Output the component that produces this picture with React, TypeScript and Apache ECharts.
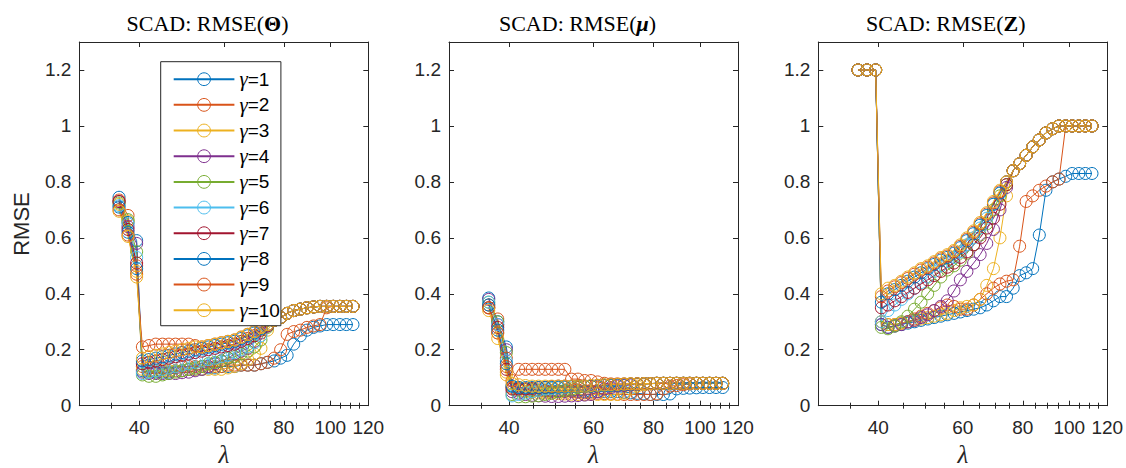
import React, { useEffect, useRef } from 'react';
import * as echarts from 'echarts';

// λ grid (shared by all γ curves)
const LAMBDA = [36.3, 37.9, 39.5, 40.6, 41.9, 43.3, 44.7, 46.1, 47.6, 49.1, 50.7, 52.3, 54.0, 55.7, 57.5, 59.3, 61.2, 63.2, 65.2, 67.3, 69.5, 71.7, 74.0, 76.4, 78.8, 81.3, 83.9, 86.6, 89.4, 92.3, 95.2, 98.3, 101.4, 104.7, 108.0, 111.5];

const GAMMA_LABELS = ['γ=1', 'γ=2', 'γ=3', 'γ=4', 'γ=5', 'γ=6', 'γ=7', 'γ=8', 'γ=9', 'γ=10'];
const X_MAJOR = [40, 60, 80, 100, 120];
const X_MINOR = [35, 45, 50, 55, 65, 70, 75, 85, 90, 95, 105, 110, 115];
const Y_TICKS = [0, 0.2, 0.4, 0.6, 0.8, 1, 1.2];
const TITLE_SYMBOLS = ['Θ', 'μ', 'Z'];

// RMSE(Θ)
const THETA_G1 = [0.745, 0.655, 0.59, 0.125, 0.12, 0.12, 0.12, 0.12, 0.125, 0.125, 0.13, 0.13, 0.13, 0.135, 0.135, 0.14, 0.14, 0.14, 0.145, 0.145, 0.145, 0.15, 0.155, 0.16, 0.17, 0.18, 0.22, 0.25, 0.27, 0.28, 0.285, 0.29, 0.29, 0.29, 0.29, 0.29];
const THETA_G2 = [0.735, 0.68, 0.5, 0.14, 0.135, 0.135, 0.135, 0.135, 0.14, 0.14, 0.14, 0.14, 0.14, 0.14, 0.14, 0.14, 0.145, 0.145, 0.145, 0.145, 0.145, 0.15, 0.155, 0.17, 0.2, 0.255, 0.265, 0.27, 0.28, 0.285, 0.29, 0.35, 0.355, 0.355, 0.355, 0.355];
const THETA_G3 = [0.72, 0.66, 0.48, 0.13, 0.125, 0.125, 0.125, 0.125, 0.125, 0.125, 0.13, 0.13, 0.13, 0.13, 0.13, 0.13, 0.135, 0.14, 0.15, 0.165, 0.185, 0.205, 0.27, 0.305, 0.315, 0.33, 0.34, 0.345, 0.35, 0.353, 0.355, 0.355, 0.355, 0.355, 0.355, 0.355];
const THETA_G4 = [0.73, 0.64, 0.58, 0.12, 0.115, 0.115, 0.115, 0.115, 0.115, 0.118, 0.12, 0.125, 0.13, 0.14, 0.15, 0.16, 0.17, 0.185, 0.195, 0.205, 0.23, 0.26, 0.285, 0.305, 0.315, 0.33, 0.34, 0.345, 0.35, 0.353, 0.355, 0.355, 0.355, 0.355, 0.355, 0.355];
const THETA_G5 = [0.725, 0.665, 0.55, 0.11, 0.105, 0.105, 0.11, 0.115, 0.12, 0.125, 0.13, 0.135, 0.14, 0.15, 0.155, 0.16, 0.17, 0.175, 0.185, 0.195, 0.21, 0.235, 0.28, 0.305, 0.315, 0.33, 0.34, 0.345, 0.35, 0.353, 0.355, 0.355, 0.355, 0.355, 0.355, 0.355];
const THETA_G6 = [0.715, 0.65, 0.53, 0.115, 0.12, 0.125, 0.13, 0.135, 0.14, 0.145, 0.15, 0.155, 0.16, 0.165, 0.17, 0.175, 0.18, 0.19, 0.2, 0.21, 0.225, 0.25, 0.285, 0.305, 0.315, 0.33, 0.34, 0.345, 0.35, 0.353, 0.355, 0.355, 0.355, 0.355, 0.355, 0.355];
const THETA_G7 = [0.73, 0.63, 0.51, 0.15, 0.155, 0.16, 0.165, 0.17, 0.175, 0.18, 0.185, 0.19, 0.195, 0.2, 0.205, 0.21, 0.215, 0.22, 0.23, 0.24, 0.25, 0.27, 0.285, 0.305, 0.315, 0.33, 0.34, 0.345, 0.35, 0.353, 0.355, 0.355, 0.355, 0.355, 0.355, 0.355];
const THETA_G8 = [0.71, 0.62, 0.49, 0.16, 0.165, 0.17, 0.175, 0.18, 0.185, 0.19, 0.195, 0.2, 0.205, 0.21, 0.215, 0.22, 0.225, 0.23, 0.24, 0.25, 0.26, 0.275, 0.29, 0.305, 0.315, 0.33, 0.34, 0.345, 0.35, 0.353, 0.355, 0.355, 0.355, 0.355, 0.355, 0.355];
const THETA_G9 = [0.7, 0.61, 0.47, 0.21, 0.215, 0.22, 0.22, 0.22, 0.22, 0.22, 0.22, 0.215, 0.21, 0.215, 0.22, 0.225, 0.23, 0.235, 0.245, 0.255, 0.265, 0.28, 0.29, 0.305, 0.315, 0.33, 0.34, 0.345, 0.35, 0.353, 0.355, 0.355, 0.355, 0.355, 0.355, 0.355];
const THETA_G10 = [0.695, 0.605, 0.46, 0.17, 0.175, 0.18, 0.185, 0.19, 0.195, 0.2, 0.205, 0.21, 0.21, 0.215, 0.22, 0.225, 0.23, 0.235, 0.245, 0.255, 0.265, 0.28, 0.29, 0.305, 0.315, 0.33, 0.34, 0.345, 0.35, 0.353, 0.355, 0.355, 0.355, 0.355, 0.355, 0.355];

// RMSE(μ)
const MU_G1 = [0.385, 0.3, 0.21, 0.07, 0.065, 0.06, 0.058, 0.056, 0.055, 0.054, 0.053, 0.052, 0.052, 0.051, 0.05, 0.05, 0.05, 0.05, 0.05, 0.05, 0.048, 0.046, 0.044, 0.042, 0.04, 0.04, 0.04, 0.042, 0.06, 0.062, 0.063, 0.064, 0.065, 0.065, 0.065, 0.065];
const MU_G2 = [0.36, 0.31, 0.17, 0.065, 0.06, 0.058, 0.056, 0.054, 0.052, 0.05, 0.05, 0.05, 0.05, 0.048, 0.046, 0.045, 0.044, 0.043, 0.042, 0.041, 0.04, 0.04, 0.04, 0.04, 0.04, 0.042, 0.06, 0.07, 0.072, 0.075, 0.078, 0.08, 0.08, 0.08, 0.08, 0.08];
const MU_G3 = [0.35, 0.26, 0.11, 0.06, 0.055, 0.05, 0.048, 0.046, 0.045, 0.044, 0.043, 0.042, 0.041, 0.04, 0.04, 0.04, 0.04, 0.04, 0.04, 0.04, 0.045, 0.06, 0.07, 0.075, 0.078, 0.08, 0.08, 0.08, 0.08, 0.08, 0.08, 0.08, 0.08, 0.08, 0.08, 0.08];
const MU_G4 = [0.38, 0.29, 0.2, 0.05, 0.045, 0.04, 0.037, 0.035, 0.034, 0.033, 0.033, 0.034, 0.035, 0.036, 0.038, 0.04, 0.05, 0.06, 0.065, 0.07, 0.072, 0.074, 0.076, 0.079, 0.079, 0.08, 0.08, 0.08, 0.08, 0.08, 0.08, 0.08, 0.08, 0.08, 0.08, 0.08];
const MU_G5 = [0.37, 0.3, 0.19, 0.04, 0.032, 0.032, 0.034, 0.036, 0.04, 0.045, 0.05, 0.055, 0.06, 0.065, 0.068, 0.07, 0.072, 0.074, 0.075, 0.076, 0.077, 0.078, 0.078, 0.079, 0.079, 0.08, 0.08, 0.08, 0.08, 0.08, 0.08, 0.08, 0.08, 0.08, 0.08, 0.08];
const MU_G6 = [0.37, 0.29, 0.16, 0.035, 0.04, 0.045, 0.05, 0.055, 0.06, 0.062, 0.064, 0.066, 0.068, 0.07, 0.07, 0.071, 0.072, 0.073, 0.074, 0.075, 0.076, 0.077, 0.078, 0.079, 0.079, 0.08, 0.08, 0.08, 0.08, 0.08, 0.08, 0.08, 0.08, 0.08, 0.08, 0.08];
const MU_G7 = [0.35, 0.28, 0.13, 0.06, 0.06, 0.06, 0.062, 0.064, 0.066, 0.068, 0.07, 0.07, 0.07, 0.07, 0.07, 0.071, 0.072, 0.073, 0.074, 0.075, 0.076, 0.077, 0.078, 0.079, 0.079, 0.08, 0.08, 0.08, 0.08, 0.08, 0.08, 0.08, 0.08, 0.08, 0.08, 0.08];
const MU_G8 = [0.36, 0.27, 0.15, 0.07, 0.065, 0.065, 0.065, 0.065, 0.065, 0.065, 0.066, 0.067, 0.068, 0.069, 0.07, 0.07, 0.071, 0.072, 0.073, 0.074, 0.075, 0.076, 0.077, 0.079, 0.079, 0.08, 0.08, 0.08, 0.08, 0.08, 0.08, 0.08, 0.08, 0.08, 0.08, 0.08];
const MU_G9 = [0.35, 0.26, 0.14, 0.09, 0.13, 0.13, 0.13, 0.13, 0.13, 0.13, 0.13, 0.13, 0.095, 0.095, 0.09, 0.09, 0.085, 0.08, 0.078, 0.078, 0.078, 0.078, 0.078, 0.079, 0.079, 0.08, 0.08, 0.08, 0.08, 0.08, 0.08, 0.08, 0.08, 0.08, 0.08, 0.08];
const MU_G10 = [0.34, 0.24, 0.12, 0.08, 0.075, 0.072, 0.07, 0.07, 0.07, 0.07, 0.07, 0.07, 0.07, 0.07, 0.07, 0.072, 0.073, 0.074, 0.075, 0.076, 0.077, 0.078, 0.078, 0.079, 0.079, 0.08, 0.08, 0.08, 0.08, 0.08, 0.08, 0.08, 0.08, 0.08, 0.08, 0.08];

// RMSE(Z)
const Z_G1 = [1.2, 1.2, 1.2, 0.29, 0.28, 0.285, 0.29, 0.295, 0.3, 0.305, 0.31, 0.315, 0.32, 0.325, 0.33, 0.335, 0.34, 0.345, 0.35, 0.36, 0.375, 0.39, 0.39, 0.42, 0.465, 0.475, 0.49, 0.61, 0.77, 0.8, 0.81, 0.82, 0.83, 0.83, 0.83, 0.83];
const Z_G2 = [1.2, 1.2, 1.2, 0.3, 0.29, 0.29, 0.295, 0.3, 0.31, 0.32, 0.33, 0.34, 0.35, 0.36, 0.355, 0.345, 0.345, 0.36, 0.38, 0.4, 0.42, 0.435, 0.445, 0.45, 0.57, 0.73, 0.75, 0.77, 0.785, 0.8, 0.81, 1.0, 1.0, 1.0, 1.0, 1.0];
const Z_G3 = [1.2, 1.2, 1.2, 0.3, 0.29, 0.29, 0.295, 0.3, 0.305, 0.31, 0.315, 0.32, 0.325, 0.33, 0.34, 0.35, 0.355, 0.36, 0.38, 0.43, 0.49, 0.6, 0.75, 0.84, 0.865, 0.895, 0.925, 0.95, 0.975, 0.99, 1.0, 1.0, 1.0, 1.0, 1.0, 1.0];
const Z_G4 = [1.2, 1.2, 1.2, 0.29, 0.28, 0.285, 0.29, 0.3, 0.305, 0.315, 0.325, 0.34, 0.355, 0.375, 0.41, 0.45, 0.48, 0.51, 0.54, 0.58, 0.63, 0.7, 0.78, 0.84, 0.865, 0.895, 0.925, 0.95, 0.975, 0.99, 1.0, 1.0, 1.0, 1.0, 1.0, 1.0];
const Z_G5 = [1.2, 1.2, 1.2, 0.28, 0.275, 0.285, 0.3, 0.32, 0.345, 0.37, 0.4, 0.43, 0.46, 0.485, 0.5, 0.52, 0.545, 0.575, 0.61, 0.65, 0.7, 0.75, 0.79, 0.84, 0.865, 0.895, 0.925, 0.95, 0.975, 0.99, 1.0, 1.0, 1.0, 1.0, 1.0, 1.0];
const Z_G6 = [1.2, 1.2, 1.2, 0.3, 0.34, 0.36, 0.38, 0.4, 0.42, 0.44, 0.46, 0.48, 0.5, 0.515, 0.53, 0.55, 0.575, 0.6, 0.635, 0.67, 0.72, 0.76, 0.8, 0.84, 0.865, 0.895, 0.925, 0.95, 0.975, 0.99, 1.0, 1.0, 1.0, 1.0, 1.0, 1.0];
const Z_G7 = [1.2, 1.2, 1.2, 0.35, 0.36, 0.375, 0.39, 0.405, 0.42, 0.435, 0.45, 0.465, 0.48, 0.495, 0.51, 0.53, 0.55, 0.575, 0.6, 0.635, 0.67, 0.72, 0.79, 0.84, 0.865, 0.895, 0.925, 0.95, 0.975, 0.99, 1.0, 1.0, 1.0, 1.0, 1.0, 1.0];
const Z_G8 = [1.2, 1.2, 1.2, 0.37, 0.4, 0.415, 0.43, 0.445, 0.46, 0.475, 0.49, 0.505, 0.52, 0.53, 0.545, 0.565, 0.59, 0.615, 0.645, 0.68, 0.72, 0.76, 0.8, 0.84, 0.865, 0.895, 0.925, 0.95, 0.975, 0.99, 1.0, 1.0, 1.0, 1.0, 1.0, 1.0];
const Z_G9 = [1.2, 1.2, 1.2, 0.39, 0.41, 0.425, 0.44, 0.455, 0.47, 0.485, 0.495, 0.51, 0.525, 0.535, 0.55, 0.57, 0.595, 0.62, 0.65, 0.685, 0.725, 0.765, 0.8, 0.84, 0.865, 0.895, 0.925, 0.95, 0.975, 0.99, 1.0, 1.0, 1.0, 1.0, 1.0, 1.0];
const Z_G10 = [1.2, 1.2, 1.2, 0.4, 0.42, 0.43, 0.445, 0.46, 0.475, 0.49, 0.5, 0.515, 0.53, 0.54, 0.555, 0.575, 0.6, 0.625, 0.655, 0.69, 0.73, 0.77, 0.8, 0.84, 0.865, 0.895, 0.925, 0.95, 0.975, 0.99, 1.0, 1.0, 1.0, 1.0, 1.0, 1.0];

const PANELS = [
  [THETA_G1, THETA_G2, THETA_G3, THETA_G4, THETA_G5, THETA_G6, THETA_G7, THETA_G8, THETA_G9, THETA_G10],
  [MU_G1, MU_G2, MU_G3, MU_G4, MU_G5, MU_G6, MU_G7, MU_G8, MU_G9, MU_G10],
  [Z_G1, Z_G2, Z_G3, Z_G4, Z_G5, Z_G6, Z_G7, Z_G8, Z_G9, Z_G10],
];

const COLORS = ['#0072BD', '#D95319', '#EDB120', '#7E2F8E', '#77AC30', '#4DBEEE', '#A2142F', '#0072BD', '#D95319', '#EDB120'];
const AX = '#262626';
const SANS = '"Liberation Sans", Arial, sans-serif';
const SERIF = '"Liberation Serif", "Times New Roman", serif';
const GRID_LEFT = [79.3, 449, 818.3];
const GRID_W = 289;
const GRID_TOP = 42;
const GRID_H = 363.7;
const TITLE_X = [207.5, 577.5, 945.8];

function buildOption() {
  const lnMin = Math.log(30);
  const lnMax = Math.log(120);
  const major = X_MAJOR.map((v) => Math.log(v));
  const minor = X_MINOR.map((v) => Math.log(v));
  const grid: any[] = [];
  const xAxis: any[] = [];
  const yAxis: any[] = [];
  const series: any[] = [];
  for (let p = 0; p < 3; p++) {
    grid.push({
      left: GRID_LEFT[p], top: GRID_TOP, width: GRID_W, height: GRID_H,
      containLabel: false, outerBoundsMode: 'none',
    });
    const base = {
      gridIndex: p, type: 'value', min: lnMin, max: lnMax,
      splitLine: { show: false }, axisPointer: { show: false },
    };
    const line = { show: true, onZero: false, lineStyle: { color: AX, width: 1 } };
    xAxis.push({
      ...base, position: 'bottom', axisLine: line,
      axisTick: { show: true, inside: true, length: 5, customValues: major, lineStyle: { color: AX } },
      axisLabel: {
        show: true, customValues: major, margin: 12, color: AX, fontFamily: SANS, fontSize: 19,
        formatter: (v: number) => String(Math.round(Math.exp(v))),
      },
      name: 'λ', nameLocation: 'middle', nameGap: 36,
      nameTextStyle: { fontFamily: SERIF, fontStyle: 'italic', fontSize: 25, lineHeight: 25, color: AX },
    });
    xAxis.push({
      ...base, position: 'bottom', axisLine: { show: false },
      axisTick: { show: true, inside: true, length: 3, customValues: minor, lineStyle: { color: AX } },
      axisLabel: { show: false },
    });
    xAxis.push({
      ...base, position: 'top', axisLine: line,
      axisTick: { show: true, inside: true, length: 5, customValues: major, lineStyle: { color: AX } },
      axisLabel: { show: false },
    });
    xAxis.push({
      ...base, position: 'top', axisLine: { show: false },
      axisTick: { show: true, inside: true, length: 3, customValues: minor, lineStyle: { color: AX } },
      axisLabel: { show: false },
    });
    yAxis.push({
      gridIndex: p, type: 'value', position: 'left', min: 0, max: 1.3,
      axisLine: line, splitLine: { show: false },
      axisTick: { show: true, inside: true, length: 5, customValues: Y_TICKS, lineStyle: { color: AX } },
      axisLabel: { show: true, customValues: Y_TICKS, margin: 8, color: AX, fontFamily: SANS, fontSize: 19 },
    });
    yAxis.push({
      gridIndex: p, type: 'value', position: 'right', min: 0, max: 1.3,
      axisLine: line, splitLine: { show: false },
      axisTick: { show: true, inside: true, length: 5, customValues: Y_TICKS, lineStyle: { color: AX } },
      axisLabel: { show: false },
    });
    PANELS[p].forEach((vals, g) => {
      const c = COLORS[g];
      series.push({
        type: 'line', name: GAMMA_LABELS[g], xAxisIndex: p * 4, yAxisIndex: p * 2,
        data: LAMBDA.map((l, i) => [Math.log(l), vals[i]]),
        symbol: 'circle', symbolSize: 12, showSymbol: true, color: c,
        lineStyle: { color: c, width: 1 },
        itemStyle: { color: 'rgba(0,0,0,0)', borderColor: c, borderWidth: 1 },
        emphasis: { disabled: true }, silent: true, clip: false,
      });
    });
  }

  const titleRich = {
    a: { fontFamily: SERIF, fontSize: 22, fill: '#000' },
    b: { fontFamily: SERIF, fontSize: 22, fill: '#000', fontWeight: 'bold' },
    bi: { fontFamily: SERIF, fontSize: 22, fill: '#000', fontWeight: 'bold', fontStyle: 'italic' },
  };
  const graphic: any[] = TITLE_SYMBOLS.map((s, i) => ({
    type: 'text', x: TITLE_X[i], y: 23, silent: true,
    style: {
      text: `{a|SCAD: RMSE(}{${i === 1 ? 'bi' : 'b'}|${s}}{a|)}`,
      rich: titleRich, align: 'center', verticalAlign: 'middle',
    },
  }));
  graphic.push({
    type: 'text', x: 21.7, y: 224, rotation: Math.PI / 2, silent: true,
    style: { text: 'RMSE', fontFamily: SANS, fontSize: 22, fill: AX, align: 'center', verticalAlign: 'middle' },
  });

  return {
    animation: false,
    backgroundColor: '#fff',
    grid, xAxis, yAxis, series, graphic,
    legend: {
      data: GAMMA_LABELS, orient: 'vertical', left: 160.7, top: 61.7,
      itemWidth: 60.7, itemHeight: 16, itemGap: 4.67,
      padding: [7, 1, 5, 12], borderColor: AX, borderWidth: 1, backgroundColor: '#fff',
      selectedMode: false,
      itemStyle: { borderWidth: 1 },
      formatter: (name: string) => `{g|γ}{n|${name.slice(1)}}`,
      textStyle: {
        lineHeight: 16,
        rich: {
          g: { fontFamily: SERIF, fontStyle: 'italic', fontSize: 21, color: '#000', lineHeight: 16 },
          n: { fontFamily: SANS, fontSize: 19, color: '#000', lineHeight: 16 },
        },
      },
    },
  };
}

export default function App() {
  const ref = useRef<HTMLDivElement>(null);
  useEffect(() => {
    if (!ref.current) return;
    const chart = echarts.init(ref.current, undefined, { renderer: 'svg' });
    chart.setOption(buildOption() as any);
    return () => chart.dispose();
  }, []);
  return <div ref={ref} style={{ position: 'absolute', left: 0, top: 0, width: 1126, height: 468 }} />;
}
